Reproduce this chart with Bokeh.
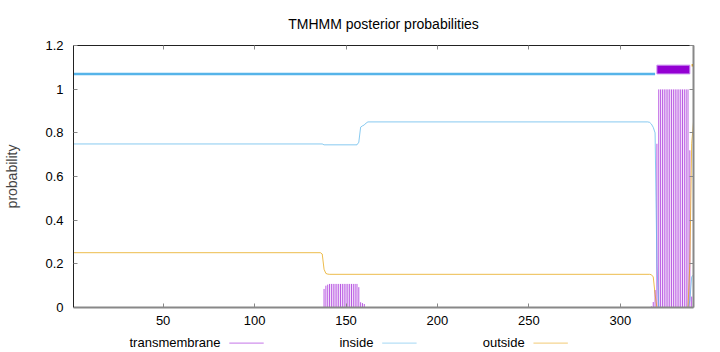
from bokeh.plotting import figure
from bokeh.models import (Range1d, LinearAxis, FixedTicker, CustomJSTickFormatter)
from bokeh.layouts import column
from bokeh.core.properties import value
from bokeh.embed import file_html
from bokeh.resources import INLINE

# ---------------- data ----------------
title_text = "TMHMM posterior probabilities"
x_ticks = [50, 100, 150, 200, 250, 300]
y_ticks = [0, 0.2, 0.4, 0.6, 0.8, 1, 1.2]
seq_len = 340

# posterior probability of "inside" (vertices of the curve, residue / prob)
inside_x = [1, 137, 138, 156, 157, 158, 159, 160, 161, 162, 315, 316, 317, 318,
            319, 320, 321, 337, 338, 339, 340]
inside_y = [0.749, 0.749, 0.745, 0.745, 0.757, 0.826, 0.832, 0.836, 0.845, 0.850,
            0.850, 0.848, 0.840, 0.825, 0.800, 0.200, 0.000, 0.000, 0.030, 0.140, 0.150]

# posterior probability of "outside"
outside_x = [1, 136, 137, 138, 139, 140, 141, 316, 317, 318, 319, 320, 337, 338, 339, 340]
outside_y = [0.251, 0.251, 0.245, 0.175, 0.156, 0.153, 0.152, 0.152, 0.150, 0.140,
             0.060, 0.000, 0.000, 0.200, 0.750, 0.850]

# posterior probability of "transmembrane" (impulses, residues with non-zero value)
tm_pos = [138, 139, 140, 141, 142, 143, 144, 145, 146, 147, 148, 149, 150, 151, 152,
          153, 154, 155, 156, 157, 158, 159, 160,
          317, 318, 319, 320, 321, 322, 323, 324, 325, 326, 327, 328, 329, 330, 331,
          332, 333, 334, 335, 336, 337, 338, 339]
tm_val = [0.085, 0.100, 0.105, 0.108, 0.108, 0.108, 0.108, 0.108, 0.108, 0.108, 0.108,
          0.108, 0.108, 0.108, 0.108, 0.108, 0.108, 0.108, 0.108, 0.093, 0.024, 0.020, 0.016,
          0.005, 0.025, 0.080, 0.750, 0.999, 0.999, 0.999, 0.999, 0.999, 0.999, 0.999,
          0.999, 0.999, 0.999, 0.999, 0.999, 0.999, 0.999, 0.999, 0.999, 0.999, 0.720, 0.050]

# predicted topology (start, end)
topo_inside = [(1, 319)]
topo_tm = [(320, 338)]
topo_outside = [(339, 340)]
topo_levels = {"inside": 1.07, "tm_bottom": 1.07, "tm_top": 1.11, "outside": 1.11}

legend_names = ["transmembrane", "inside", "outside"]

# ---------------- style ----------------
C_TM = "#9400D3"
C_IN = "#56B4E9"
C_OUT = "#E69F00"
FONT = "Liberation Sans"
AX_GRAY = "#888888"

p = figure(width=720, height=332, output_backend="svg", toolbar_location=None,
           x_range=Range1d(1, seq_len), y_range=Range1d(0, 1.2),
           x_axis_location=None, y_axis_location=None,
           min_border_left=73, min_border_right=27, min_border_top=44, min_border_bottom=25,
           background_fill_color="white", border_fill_color="white")
p.outline_line_color = None
p.xgrid.visible = False
p.ygrid.visible = False

p.title.text = title_text
p.title.align = "center"
p.title.offset = 7
p.title.text_font = FONT
p.title.text_font_size = "14px"
p.title.text_font_style = "normal"
p.title.text_color = "black"
p.title.standoff = 27

fmt = CustomJSTickFormatter(code="return String(Math.round(tick*10)/10);")

def make_axis(ticks, show_labels, line_color, line_width, formatter=None):
    ax = LinearAxis(ticker=FixedTicker(ticks=ticks))
    ax.major_tick_in = 4
    ax.major_tick_out = 0
    ax.minor_tick_line_color = None
    ax.major_tick_line_color = AX_GRAY
    ax.axis_line_color = line_color
    ax.axis_line_width = line_width
    ax.major_label_text_font = FONT
    if show_labels:
        ax.major_label_text_font_size = "13px"
        ax.major_label_text_color = "black"
        ax.major_label_standoff = 8
    else:
        ax.major_label_text_font_size = "1px"
        ax.major_label_text_color = None
        ax.major_label_standoff = 0
    if formatter is not None:
        ax.formatter = formatter
    return ax

bottom = make_axis(x_ticks, True, AX_GRAY, 2)
bottom.major_label_standoff = 8
left = make_axis(y_ticks, True, "#222222", 1, fmt)
left.major_label_standoff = 10
left.axis_label = "probability"
left.axis_label_text_font = FONT
left.axis_label_text_font_size = "14px"
left.axis_label_text_font_style = "normal"
left.axis_label_standoff = 22
top = make_axis(x_ticks, False, "#222222", 1)
right = make_axis(y_ticks, False, AX_GRAY, 2)
p.add_layout(bottom, "below")
p.add_layout(left, "left")
p.add_layout(top, "above")
p.add_layout(right, "right")

# TM impulses
p.segment(x0=tm_pos, y0=[0] * len(tm_pos), x1=tm_pos, y1=tm_val,
          line_color=C_TM, line_width=1, line_alpha=0.65)
# inside / outside curves
p.line(inside_x, inside_y, line_color=C_IN, line_width=1, line_alpha=0.7)
p.line(outside_x, outside_y, line_color=C_OUT, line_width=1, line_alpha=0.7)

# topology track
p.segment(x0=[a for a, b in topo_inside], y0=[topo_levels["inside"]] * len(topo_inside),
          x1=[b for a, b in topo_inside], y1=[topo_levels["inside"]] * len(topo_inside),
          line_color=C_IN, line_width=2.5)
p.quad(left=[a for a, b in topo_tm], right=[b for a, b in topo_tm],
       bottom=[topo_levels["tm_bottom"]] * len(topo_tm), top=[topo_levels["tm_top"]] * len(topo_tm),
       fill_color=C_TM, line_color="#c98cf0", line_width=1)
p.segment(x0=[a for a, b in topo_outside], y0=[topo_levels["outside"]] * len(topo_outside),
          x1=[b for a, b in topo_outside], y1=[topo_levels["outside"]] * len(topo_outside),
          line_color=C_OUT, line_width=2.5)

# ---------------- legend strip (text then line sample) ----------------
leg = figure(width=720, height=20, output_backend="svg", toolbar_location=None,
             x_range=p.x_range, y_range=Range1d(0, 1),
             x_axis_location=None, y_axis_location=None,
             min_border_left=73, min_border_right=27, min_border_top=0, min_border_bottom=0,
             background_fill_color="white", border_fill_color="white")
leg.outline_line_color = None
leg.xgrid.visible = False
leg.ygrid.visible = False

legend_colors = [C_TM, C_IN, C_OUT]
legend_text_x = [81.4, 165.0, 247.7]
legend_line_gap = 4.8
legend_line_len = 18.8
leg.text(x=legend_text_x, y=[0.5] * 3, text=legend_names, text_align="right",
         text_baseline="middle", text_font=value(FONT), text_font_size="13px",
         text_color="black")
leg.segment(x0=[t + legend_line_gap for t in legend_text_x], y0=[0.47] * 3,
            x1=[t + legend_line_gap + legend_line_len for t in legend_text_x], y1=[0.47] * 3,
            line_color=legend_colors, line_width=1, line_alpha=0.55)

layout = column(p, leg, spacing=0)
open("out.html", "w").write(file_html(layout, INLINE))
